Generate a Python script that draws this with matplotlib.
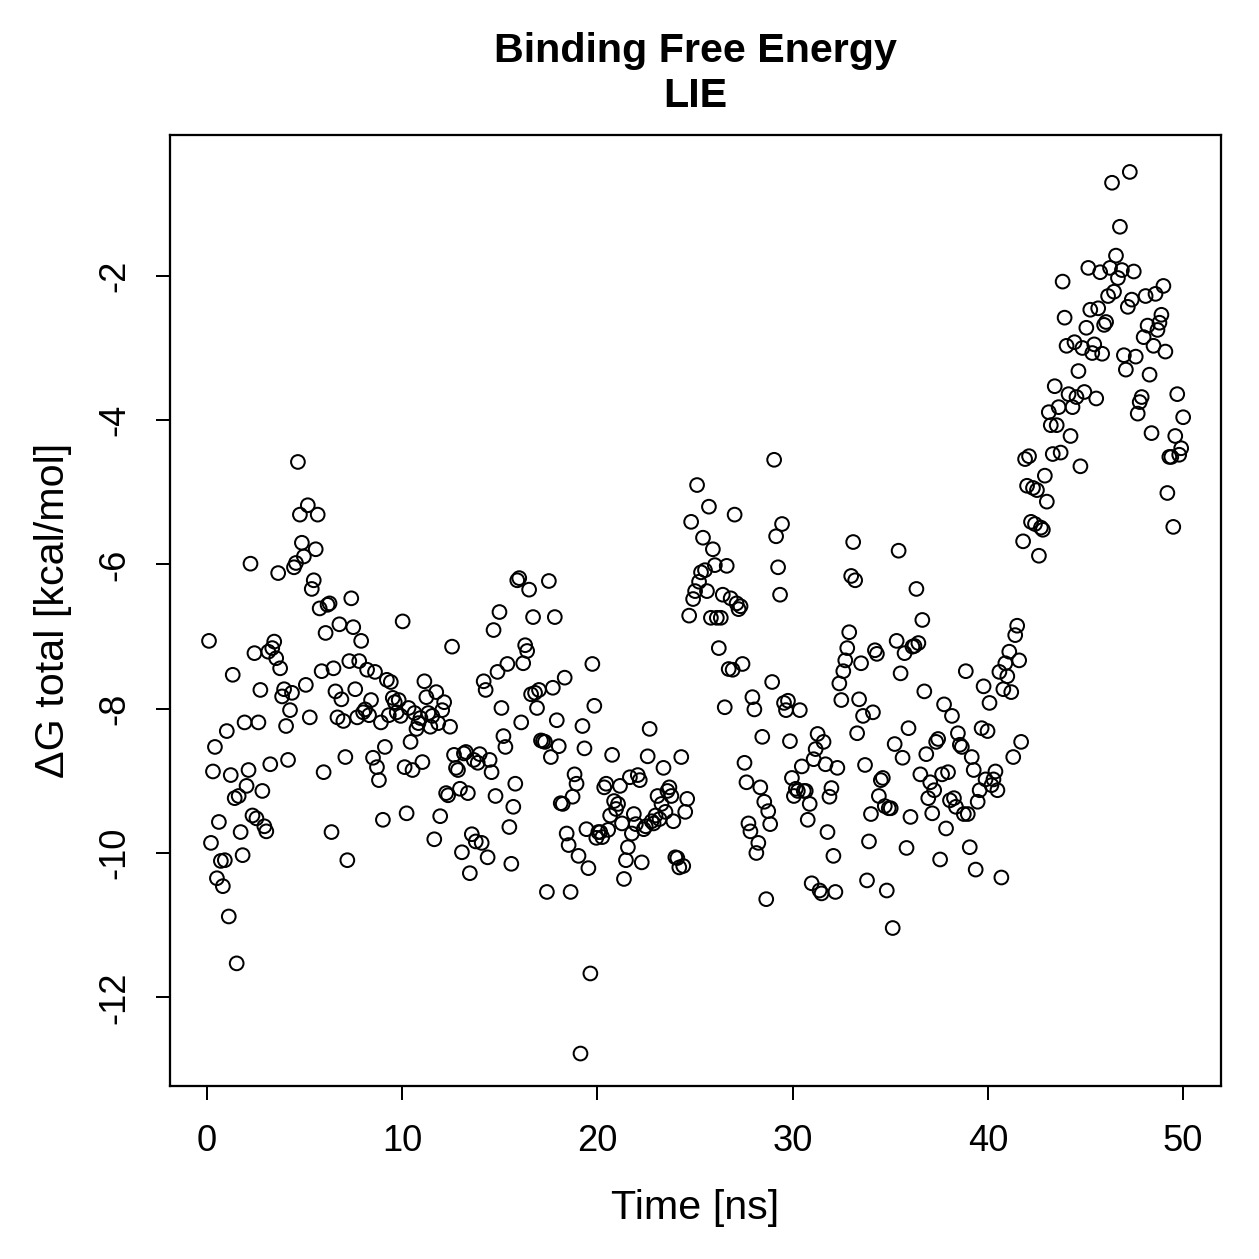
import numpy as np
import matplotlib.pyplot as plt

plt.rcParams['font.family'] = ['Liberation Sans', 'DejaVu Sans']

# dG total [kcal/mol], one value per frame
dg = [
    # 0 - 5 ns
    -7.06, -9.86, -8.87, -8.53, -10.35, -9.57, -10.11, -10.46, -10.10, -8.31,
    -10.88, -8.92, -7.53, -9.24, -11.53, -9.21, -9.71, -10.03, -8.19, -9.07,
    -8.85, -5.99, -9.48, -7.23, -9.52, -8.19, -7.74, -9.14, -9.63,
    -9.70, -7.21, -8.77, -7.16, -7.07, -7.30, -6.12, -7.44, -7.83, -7.73,
    -8.24, -8.71, -8.02, -7.78, -6.04, -5.98, -4.58, -5.31, -5.70,
    -5.89,
    # 5 - 10 ns
    -7.67, -5.18, -8.12, -6.34, -6.22, -5.79, -5.31, -6.61, -7.48,
    -8.88, -6.95, -6.56, -6.54, -9.71, -7.44, -7.76, -8.12, -6.83, -7.87,
    -8.17, -8.67, -10.10, -7.34, -6.47, -6.87, -7.73, -8.12, -7.34, -7.06,
    -8.05, -8.01, -7.46, -8.09, -7.88, -8.68, -7.49, -8.81, -8.99,
    -8.19, -9.54, -8.53, -7.60, -8.09, -7.63, -7.85, -7.91, -8.05, -7.88,
    -8.10, -6.79, -8.81,
    # 10 - 15 ns
    -9.45, -7.99, -8.46, -8.85, -8.06, -8.28, -8.20, -8.13, -8.74, -7.62,
    -7.84, -8.06, -8.25, -8.10, -9.81, -7.77, -8.20, -9.49, -8.02, -7.91,
    -9.17, -9.20, -8.25, -7.14, -8.64, -8.82, -8.85, -9.11, -9.99, -8.62,
    -8.60, -9.17, -10.28, -9.74, -8.71, -9.84, -8.75, -8.63, -9.86, -7.62,
    -7.74, -10.06, -8.71, -8.88, -6.91, -9.21, -7.49, -6.66, -7.99, -8.38,
    -8.53,
    # 15 - 20 ns
    -7.38, -9.64, -10.15, -9.36, -9.04, -6.22, -6.19, -8.19, -7.37, -7.12,
    -7.20, -6.35, -7.80, -6.73, -7.78, -7.99, -7.74, -8.44, -8.45, -8.46,
    -10.54, -6.23, -8.67, -7.71, -6.73, -8.16, -8.52, -9.31, -9.32,
    -7.57, -9.73, -9.89, -10.54, -9.22, -8.91, -9.04, -10.04, -12.78,
    -8.24, -8.55, -9.67, -10.21, -11.67, -7.38, -7.96, -9.79,
    # 20 - 25 ns
    -9.71, -9.71, -9.78, -9.09, -9.04, -9.68, -9.48, -8.64, -9.28, -9.39,
    -9.32, -9.07, -9.59, -10.36, -10.10, -9.92, -8.95, -9.73, -9.46, -9.60,
    -8.92, -8.99, -10.13, -9.67, -9.63, -8.66, -8.28, -9.56, -9.59, -9.48,
    -9.21, -9.53, -9.32, -8.82, -9.43, -9.14, -9.09, -9.21, -9.56, -10.06,
    -10.07, -10.20, -8.67, -10.18, -9.43, -9.25, -6.71, -5.41, -6.48, -6.37,
    # 25 - 30 ns
    -4.90, -6.24, -6.11, -5.63, -6.08, -6.37, -5.20, -6.74, -5.79, -6.01,
    -6.74, -7.16, -6.74, -6.42, -7.98, -6.02, -7.45, -6.47, -7.46, -5.31,
    -6.54, -6.62, -6.58, -7.38, -8.75, -9.02, -9.59, -9.70, -7.84, -8.01,
    -10.00, -9.86, -9.09, -8.39, -9.29, -10.64, -9.42, -9.60, -7.63, -4.55,
    -5.61, -6.04, -6.42, -5.44, -7.92, -8.02, -7.89, -8.45, -8.96,
    # 30 - 35 ns
    -9.21, -9.11, -9.14, -8.02, -8.80, -9.14, -9.14, -9.54, -9.32, -10.42,
    -8.70, -8.56, -8.35, -10.52, -10.56, -8.46, -8.77, -9.71, -9.22, -9.10,
    -10.04, -10.54, -8.82, -7.65, -7.88, -7.48, -7.33, -7.16, -6.94, -6.16,
    -5.69, -6.22, -8.34, -7.87, -7.37, -8.10, -8.78, -10.38, -9.84, -9.46,
    -8.05, -7.19, -7.24, -9.21, -8.99, -8.96, -9.35, -10.52, -9.38, -9.38,
    -11.04, -8.49,
    # 35 - 40 ns
    -7.06, -5.81, -7.51, -8.68, -7.23, -9.93, -8.27, -9.50, -7.14, -7.13,
    -6.34, -7.09, -8.91, -6.77, -7.76, -8.63, -9.24, -9.02, -9.45, -9.13,
    -8.46, -8.42, -10.09, -8.91, -7.94, -9.66, -8.88, -9.27, -8.10, -9.24,
    -9.36, -8.34, -8.50, -8.53, -9.46, -7.48, -9.46, -9.92, -8.67, -8.85,
    -10.23, -9.29, -9.13, -8.27, -7.69, -8.98, -8.31, -7.92, -9.06, -8.98,
    -8.87, -9.13,
    # 40 - 46 ns
    -7.49, -10.34, -7.73, -7.37, -7.55, -7.21, -7.77, -8.67, -6.98, -6.85,
    -7.33, -8.46, -5.68, -4.54, -4.91, -4.50, -5.41, -4.94, -5.44, -4.97,
    -5.88, -5.49, -5.52, -4.77, -5.13, -3.89, -4.07, -4.47, -3.53, -4.07,
    -3.82, -4.45, -2.08, -2.58, -2.97, -3.64, -4.22, -3.82, -2.92, -3.68,
    -3.32, -4.64, -3.00, -3.61, -2.72, -1.89, -2.47, -3.07, -2.95, -3.70,
    -2.45, -1.95, -3.08,
    # 46 - 50 ns
    -2.68, -2.64, -2.28, -1.89, -0.71, -2.22, -1.72, -2.03, -1.32, -1.92,
    -3.10, -3.30, -2.43, -0.56, -2.33, -1.94, -3.12, -3.91, -3.75, -3.68,
    -2.85, -2.28, -2.69, -3.37, -4.18, -2.97, -2.25, -2.75, -2.65, -2.54,
    -2.14, -3.05, -5.01, -4.51, -4.51, -5.48, -4.22, -3.64, -4.48, -4.39,
    -3.96,
]

# frames are written at a regular interval over the 50 ns run
time = np.linspace(0.1, 50, len(dg))

x_ticks = [0, 10, 20, 30, 40, 50]
y_ticks = [-12, -10, -8, -6, -4, -2]

fig = plt.figure(figsize=(1259 / 180, 1259 / 180), dpi=180)
ax = fig.add_axes([0.135, 0.1374, 0.835, 0.7556])

ax.scatter(time, dg, s=30, facecolors='none', edgecolors='black', linewidths=0.8)

ax.set_xlim(-1.9, 51.95)
ax.set_ylim(-13.23, -0.044)
ax.set_xticks(x_ticks)
ax.set_yticks(y_ticks)
ax.set_yticklabels([str(v) for v in y_ticks], rotation=90, va='center')
ax.tick_params(direction='out', length=5.5, width=0.8, labelsize=14.5, pad=9.5)
for s in ax.spines.values():
    s.set_linewidth(0.9)

ax.set_xlabel('Time [ns]', fontsize=16.5, labelpad=12)
ax.set_ylabel('ΔG total [kcal/mol]', fontsize=16.5, labelpad=10)
ax.set_title('Binding Free Energy\nLIE', fontsize=16.5, fontweight='bold', pad=11, linespacing=1.25)

fig.savefig('out.png', dpi=180)
